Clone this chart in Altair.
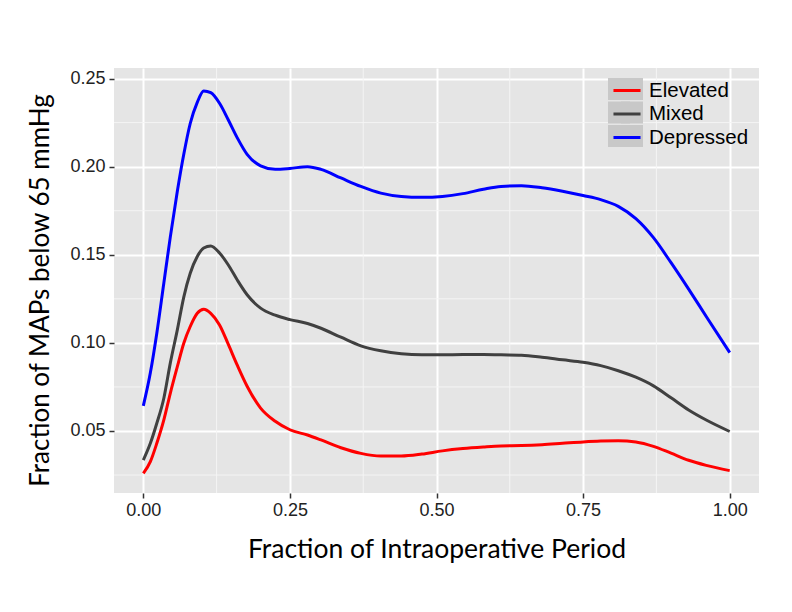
import altair as alt
import pandas as pd

# ---- data ----
x_vals = [0.0, 0.012, 0.023, 0.035, 0.046, 0.058, 0.069, 0.08, 0.092, 0.103,
          0.115, 0.13, 0.145, 0.16, 0.177, 0.2, 0.225, 0.25, 0.28, 0.303,
          0.337, 0.371, 0.405, 0.44, 0.475, 0.51, 0.545, 0.58, 0.61, 0.645,
          0.68, 0.715, 0.75, 0.78, 0.81, 0.84, 0.87, 0.9, 0.93, 0.96, 1.0]

elevated = [0.0259, 0.0326, 0.0430, 0.0563, 0.0714, 0.0865, 0.0998, 0.1093, 0.1168, 0.1191,
            0.1168, 0.1102, 0.0991, 0.0875, 0.0754, 0.0630, 0.0555, 0.0507, 0.0477, 0.0449,
            0.0405, 0.0373, 0.0358, 0.0358, 0.0369, 0.0387, 0.0400, 0.0409, 0.0415, 0.0417,
            0.0422, 0.0430, 0.0438, 0.0443, 0.0445, 0.0438, 0.0413, 0.0374, 0.0334, 0.0305, 0.0275]

mixed = [0.0335, 0.0430, 0.0544, 0.0686, 0.0885, 0.1074, 0.1260, 0.1395, 0.1490, 0.1538,
         0.1550, 0.1510, 0.1442, 0.1358, 0.1273, 0.1197, 0.1157, 0.1132, 0.1110, 0.1083,
         0.1032, 0.0983, 0.0955, 0.0938, 0.0932, 0.0932, 0.0934, 0.0934, 0.0932, 0.0930,
         0.0919, 0.0904, 0.0890, 0.0871, 0.0842, 0.0805, 0.0756, 0.0688, 0.0619, 0.0562, 0.0497]

depressed = [0.0642, 0.0830, 0.1055, 0.1340, 0.1600, 0.1860, 0.2070, 0.2245, 0.2365, 0.2430,
             0.2420, 0.2360, 0.2265, 0.2165, 0.2070, 0.2005, 0.1985, 0.1990, 0.2000, 0.1985,
             0.1936, 0.1888, 0.1850, 0.1831, 0.1826, 0.1831, 0.1847, 0.1872, 0.1888, 0.1892,
             0.1880, 0.1860, 0.1836, 0.1813, 0.1775, 0.1705, 0.1597, 0.1455, 0.1305, 0.1150, 0.0945]

groups = ["Elevated", "Mixed", "Depressed"]
colors = ["#FF0000", "#404040", "#0000FF"]
key_a = ["a_Elevated", "a_Mixed", "a_Depressed"]
key_b = ["b_Elevated", "b_Mixed", "b_Depressed"]

x_major = [0.0, 0.25, 0.5, 0.75, 1.0]
x_minor = [0.125, 0.375, 0.625, 0.875]
y_major = [0.05, 0.10, 0.15, 0.20, 0.25]
y_minor = [0.025, 0.075, 0.125, 0.175, 0.225]

rows = []
for g, ys in zip(groups, [elevated, mixed, depressed]):
    for xv, yv in zip(x_vals, ys):
        rows.append({"x": xv, "y": yv, "Group": g, "KeyA": "a_" + g, "KeyB": "b_" + g})
df = pd.DataFrame(rows)

xscale = alt.Scale(domain=[-0.05, 1.05], nice=False, zero=False)
yscale = alt.Scale(domain=[0.0148, 0.256], nice=False, zero=False)

x_axis = alt.Axis(
    values=x_major, format=".2f", title="Fraction of Intraoperative Period",
    titleFont="Lato", titleFontSize=26.5, titleFontWeight="normal", titleColor="black",
    titleX=322.5, titleY=56, titleBaseline="middle", titleAlign="center",
    labelFont="Liberation Sans", labelFontSize=18, labelColor="#222222",
    labelPadding=3, tickColor="#333333", tickSize=5, tickWidth=1.5,
    domain=False, gridColor="white", gridWidth=2, gridOpacity=1)
y_axis = alt.Axis(
    values=y_major, format=".2f", title="Fraction of MAPs below 65 mmHg",
    titleFont="Lato", titleFontSize=26, titleFontWeight="normal", titleColor="black",
    titleX=-74, titleY=222, titleBaseline="middle", titleAlign="center", titleAngle=270,
    labelFont="Liberation Sans", labelFontSize=18, labelColor="#222222",
    labelPadding=4, tickColor="#333333", tickSize=5, tickWidth=1.5,
    domain=False, gridColor="white", gridWidth=2, gridOpacity=1)

X = alt.X("x:Q", scale=xscale, axis=x_axis)
Y = alt.Y("y:Q", scale=yscale, axis=y_axis)

minor_x = alt.Chart(pd.DataFrame({"v": x_minor})).mark_rule(
    color="#F5F5F5", strokeWidth=1
).encode(x=alt.X("v:Q", scale=xscale, axis=x_axis))

minor_y = alt.Chart(pd.DataFrame({"v": y_minor})).mark_rule(
    color="#F5F5F5", strokeWidth=1
).encode(y=alt.Y("v:Q", scale=yscale, axis=y_axis))

legend_common = dict(
    title=None, orient="none", legendY=10, padding=0, symbolSize=484, symbolOpacity=1,
)

lines = alt.Chart(df).mark_line(strokeWidth=3, interpolate="monotone").encode(
    x=X, y=Y,
    color=alt.Color("Group:N", scale=alt.Scale(domain=groups, range=colors),
                    legend=alt.Legend(legendX=500.5, symbolType="M-1.23,0H1.23",
                                      symbolStrokeWidth=3, labelOffset=9.5, zindex=3,
                                      labelFont="Liberation Sans", labelFontSize=20.5,
                                      labelColor="black", rowPadding=0.5,
                                      **legend_common)),
)

keys_a = alt.Chart(df).mark_square(opacity=0).encode(
    x=X, y=Y,
    fill=alt.Fill("KeyA:N", scale=alt.Scale(domain=key_a, range=["#C8C8C8"] * 3),
                  legend=alt.Legend(legendX=494, symbolType="square", symbolStrokeWidth=0,
                                    labelExpr="''", labelOffset=0, rowPadding=1.5,
                                    zindex=1, **legend_common)),
)

keys_b = alt.Chart(df).mark_square(opacity=0, fill="#C8C8C8").encode(
    x=X, y=Y,
    stroke=alt.Stroke("KeyB:N", scale=alt.Scale(domain=key_b, range=["#C8C8C8"] * 3),
                      legend=alt.Legend(legendX=507, symbolType="square",
                                        symbolFillColor="#C8C8C8", symbolStrokeWidth=0,
                                        labelExpr="''", labelOffset=0, rowPadding=1.5,
                                        zindex=2, **legend_common)),
)

chart = alt.layer(minor_x, minor_y, keys_a, keys_b, lines).properties(
    width=645, height=425,
    padding={"left": 106, "top": 60, "right": 15, "bottom": 100},
    autosize=alt.AutoSizeParams(type="none"),
    background="white",
).configure_view(fill="#E5E5E5", strokeWidth=0)

chart.save("out.html", embed_options={"renderer": "svg", "actions": False})
